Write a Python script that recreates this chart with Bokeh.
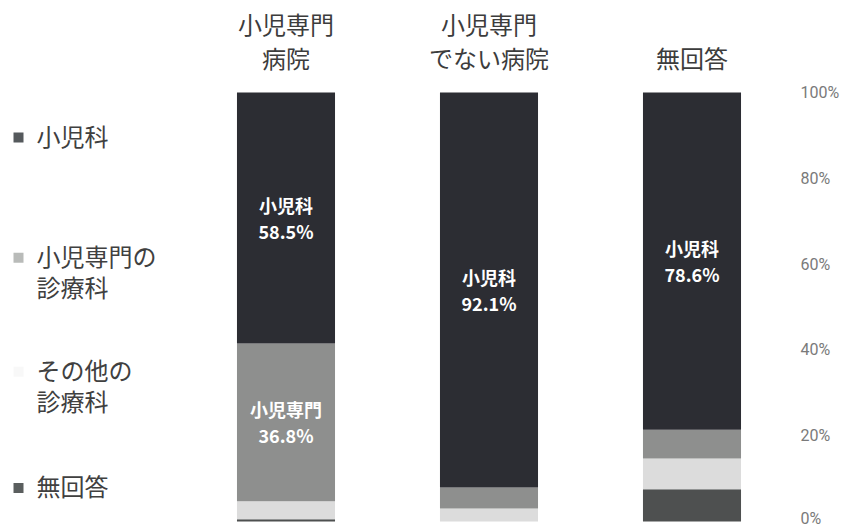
from bokeh.plotting import figure
from bokeh.models import ColumnDataSource, Range1d, FixedTicker
from bokeh.core.properties import value
from bokeh.embed import file_html
from bokeh.resources import INLINE

# ---- data ----
categories = ["小児専門\n病院", "小児専門\nでない病院", "無回答"]
series_labels = ["小児科", "小児専門の\n診療科", "その他の\n診療科", "無回答"]
series_short = ["小児科", "小児専門", "その他", "無回答"]
pediatrics = [58.5, 92.1, 78.6]
ped_specialty = [36.8, 4.9, 6.7]
other_dept = [4.2, 3.0, 7.2]
no_answer = [0.5, 0.0, 7.5]
y_ticks = [0, 20, 40, 60, 80, 100]

# ---- style ----
bar_colors = ["#2c2d33", "#8e8f8e", "#dcdcdc", "#4e5050"]
swatch_colors = ["#55595c", "#b9bbb9", "#f8f8f8", "#5a5e5e"]
JP = "Noto Sans CJK JP"
PX = 4.29  # screen px per percent (layout constant)

x_idx = list(range(len(categories)))
src = ColumnDataSource(dict(x=x_idx, ped=pediatrics, spec=ped_specialty,
                            other=other_dept, na=no_answer))

p = figure(width=859, height=527, output_backend="svg", toolbar_location=None,
           x_range=Range1d(-1.4064, 2.5345), y_range=Range1d(-1.40, 121.45),
           x_axis_location=None, y_axis_location="right",
           min_border_left=0, min_border_top=0, min_border_bottom=0,
           min_border_right=59)
p.outline_line_color = None
p.grid.visible = False

# stacked bars: bottom -> top
p.vbar_stack(["na", "other", "spec", "ped"], x="x", width=0.483, source=src,
             color=[bar_colors[3], bar_colors[2], bar_colors[1], bar_colors[0]],
             line_color=None)

# y axis on the right
ax = p.yaxis[0]
ax.ticker = FixedTicker(ticks=y_ticks)
ax.major_label_overrides = {t: f"{t}%" for t in y_ticks}
ax.axis_line_color = None
ax.major_tick_line_color = None
ax.major_tick_out = 0
ax.major_tick_in = 0
ax.minor_tick_line_color = None
ax.minor_tick_out = 0
ax.major_label_standoff = 0
ax.major_label_text_font = "Roboto"
ax.major_label_text_font_size = "16px"
ax.major_label_text_color = "#7a7a7a"


def multiline(xs, ys_anchor, texts, spacing, mode):
    """Split texts into lines; mode 'bottom' anchors last line, 'center' centres block,
    'top' anchors first line."""
    ox, oy, ot = [], [], []
    for x, y, t in zip(xs, ys_anchor, texts):
        lines = t.split("\n")
        n = len(lines)
        for k, ln in enumerate(lines):
            if mode == "bottom":
                yy = y + (n - 1 - k) * spacing
            elif mode == "top":
                yy = y - k * spacing
            else:
                yy = y + ((n - 1) / 2 - k) * spacing
            ox.append(x); oy.append(yy); ot.append(ln)
    return ox, oy, ot


# category labels above bars
cx, cy, ct = multiline(x_idx, [108.2] * len(x_idx), categories, 34 / PX, "bottom")
p.text(x=cx, y=cy, text=ct, text_font=value(JP), text_font_size="24px",
       text_color="#3c3c3c", text_align="center", text_baseline="middle")

# in-bar labels for large segments
series_vals = [no_answer, other_dept, ped_specialty, pediatrics]
series_names = [series_short[3], series_short[2], series_short[1], series_short[0]]
lx, ly, lt = [], [], []
for i in x_idx:
    base = 0.0
    for vals, name in zip(series_vals, series_names):
        v = vals[i]
        if v >= 20:
            lx.append(i)
            ly.append(base + v / 2)
            lt.append(f"{name}\n{v}%")
        base += v
bx, by, bt = multiline(lx, ly, lt, 26 / PX, "center")
p.text(x=bx, y=by, text=bt, text_font=value(JP), text_font_style="bold",
       text_font_size="18px", text_color="white", text_align="center",
       text_baseline="middle")

# legend drawn at left
leg_y = [90.0, 62.0, 35.4, 8.3]
p.scatter(x=[-1.3177] * 4, y=[y - 0.5 for y in leg_y], marker="square", size=10,
          color=swatch_colors, line_color=None)
gx, gy, gt = multiline([-1.229] * 4, leg_y, series_labels, 31 / PX, "top")
p.text(x=gx, y=gy, text=gt, text_font=value(JP), text_font_size="24px",
       text_color="#404040", text_align="left", text_baseline="middle")

open("out.html", "w").write(file_html(p, INLINE))
